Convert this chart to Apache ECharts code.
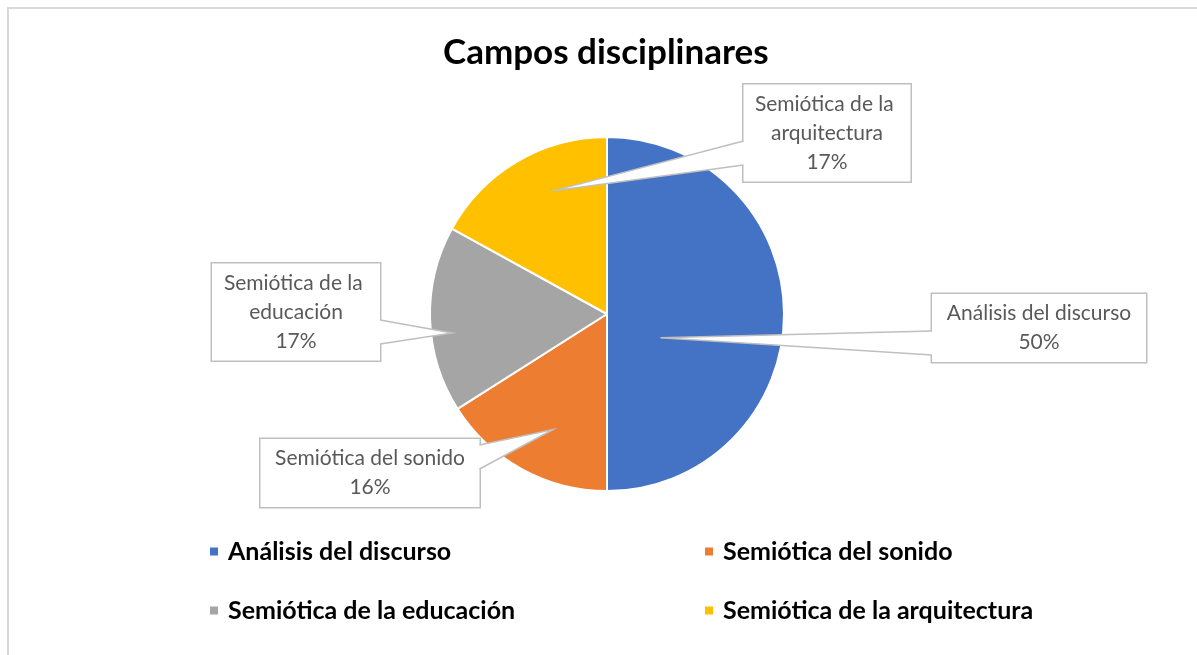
<!DOCTYPE html>
<html>
<head>
<meta charset="utf-8">
<script src="https://cdn.jsdelivr.net/npm/echarts@6/dist/echarts.min.js"></script>
<style>
  html, body { margin: 0; padding: 0; background: #fff; overflow: hidden; }
  #frame { position: absolute; left: 7px; top: 7px; width: 1400px; height: 900px;
           border-left: 2px solid #d9d9d9; border-top: 2px solid #d9d9d9; }
  #chart { position: absolute; left: 0; top: 0; width: 1197px; height: 655px; }
</style>
</head>
<body>
<div id="frame"></div>
<div id="chart"></div>
<script>
'use strict';

// ── Data ──────────────────────────────────────────────────────────────────────
const categories  = ['Análisis del discurso', 'Semiótica del sonido', 'Semiótica de la educación', 'Semiótica de la arquitectura'];
const shares      = [50, 16, 17, 17];
const sliceColors = ['#4472C4', '#ED7D31', '#A5A5A5', '#FFC000'];

// ── Layout of the callouts ───────────────────────────────────────────────────
const PIE_C     = [607, 314];
const PIE_R     = 177;
const boxCentre = [[1039, 328], [370, 473], [296, 312], [827, 133]];
const boxWidth  = [214, 219, 168, 167];
const baseDy    = [15, -16, 20, 20];                                   // wedge base on box edge
const tipPolar  = [[0.33, -24], [0.72, -115], [0.88, -173], [0.76, 114]]; // [r fraction, angle deg]

const FONT = 'Lato, "Open Sans", sans-serif';
const CALLOUT_GREY = '#bfbfbf';

const chart = echarts.init(document.getElementById('chart'), null, { renderer: 'canvas' });

// ── Callout geometry ─────────────────────────────────────────────────────────
function wedgePoints(i) {
  const [cx, cy] = boxCentre[i];
  const right = cx > PIE_C[0];
  const edgeX = right ? cx - boxWidth[i] / 2 : cx + boxWidth[i] / 2;
  const inX   = right ? edgeX + 1.5 : edgeX - 1.5;
  const by = cy + baseDy[i];
  const [f, a] = tipPolar[i];
  const rad = a * Math.PI / 180;
  const tip = [PIE_C[0] + f * PIE_R * Math.cos(rad), PIE_C[1] - f * PIE_R * Math.sin(rad)];
  return { a: [edgeX, by - 12], b: [edgeX, by + 12], ai: [inX, by - 12], bi: [inX, by + 12], tip };
}

function wedgeGraphics() {
  const out = [];
  categories.forEach((_, i) => {
    const p = wedgePoints(i);
    out.push({
      type: 'polygon', z: 100, silent: true,
      shape: { points: [p.ai, p.a, p.tip, p.b, p.bi] },
      style: { fill: '#fff', stroke: null }
    });
    out.push({
      type: 'polyline', z: 101, silent: true,
      shape: { points: [p.a, p.tip, p.b] },
      style: { stroke: CALLOUT_GREY, lineWidth: 1.5, fill: null }
    });
  });
  return out;
}

function calloutLayout(params) {
  const [cx, cy] = boxCentre[params.dataIndex];
  return { x: cx, y: cy, align: 'center', verticalAlign: 'middle' };
}

const legendText = { fontSize: 25, fontWeight: 'bold', color: '#000', fontFamily: FONT, padding: [0, 0, 0, 4] };

chart.setOption({
  animation: false,
  title: {
    text: 'Campos disciplinares',
    left: 443,
    top: 30,
    padding: [5, 0, 5, 0],
    textStyle: { fontSize: 35, fontWeight: 'bold', color: '#000', fontFamily: FONT }
  },
  legend: [
    {
      data: [categories[0], categories[2]],
      orient: 'vertical', left: 208, top: 539, itemGap: 34, padding: 0,
      icon: 'rect', itemWidth: 10, itemHeight: 10, textStyle: legendText
    },
    {
      data: [categories[1], categories[3]],
      orient: 'vertical', left: 703, top: 539, itemGap: 34, padding: 0,
      icon: 'rect', itemWidth: 10, itemHeight: 10, textStyle: legendText
    }
  ],
  graphic: wedgeGraphics(),
  series: [{
    type: 'pie',
    center: PIE_C,
    radius: PIE_R,
    startAngle: 90,
    clockwise: true,
    data: categories.map((name, i) => ({
      name, value: shares[i],
      itemStyle: { color: sliceColors[i] },
      label: { width: boxWidth[i] - 8 }
    })),
    itemStyle: { borderColor: '#fff', borderWidth: 2 },
    label: {
      show: true,
      position: 'outside',
      formatter: '{b}\n{d}%',
      fontFamily: FONT,
      fontSize: 21,
      lineHeight: 29,
      color: '#595959',
      align: 'center',
      overflow: 'break',
      backgroundColor: '#fff',
      borderColor: CALLOUT_GREY,
      borderWidth: 1.5,
      padding: [5, 4]
    },
    labelLine: { show: false },
    labelLayout: calloutLayout,
    emphasis: { disabled: true }
  }]
});
</script>
</body>
</html>
